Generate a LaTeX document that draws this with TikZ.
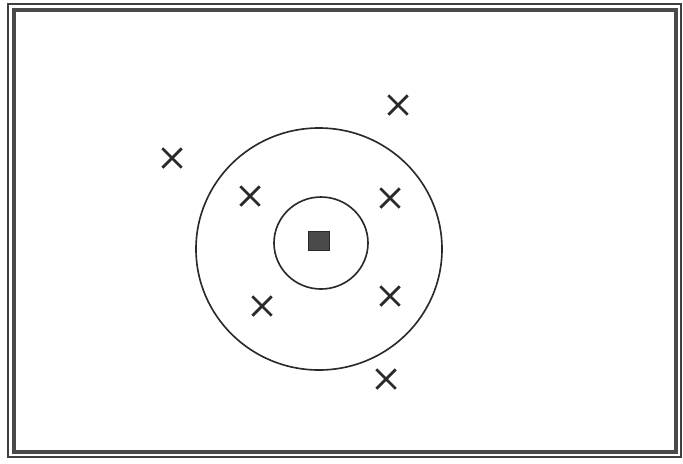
\documentclass[tikz,border=0pt]{standalone}
\usepackage{xcolor}
\usepackage{tikz}
\usetikzlibrary{shapes.misc}
\definecolor{inkcol}{HTML}{2A2A2A}

\begin{document}
\begin{tikzpicture}[x=0.03cm, y=-0.03cm,
  ring/.style={draw=inkcol, line width=1.4pt},
  xmark/.style={cross out, draw=inkcol, line width=2.4pt, minimum size=0.5cm, inner sep=0pt},
  frame/.style={draw=inkcol!90, line width=1.1pt},
]
  \useasboundingbox (0,0) rectangle (683,463);
  % frame
  \draw[frame] (8,4) rectangle (681,457);
  \draw[inkcol!85, line width=3pt] (14,10) rectangle (676,452);
  % rings and core
  \draw[ring] (319,249) ellipse (123 and 121);
  \draw[ring] (321,243) ellipse (47 and 46);
  \node[fill=inkcol!85, draw=inkcol, minimum width=0.62cm, minimum height=0.56cm,
        inner sep=0pt] (core) at (319,241) {};
  % marks
  \node[xmark] (m1) at (172,158) {};
  \node[xmark] (m2) at (398,105) {};
  \node[xmark] (m3) at (250,196) {};
  \node[xmark] (m4) at (390,198) {};
  \node[xmark] (m5) at (262,306) {};
  \node[xmark] (m6) at (390,296) {};
  \node[xmark] (m7) at (386,379) {};
\end{tikzpicture}
\end{document}
